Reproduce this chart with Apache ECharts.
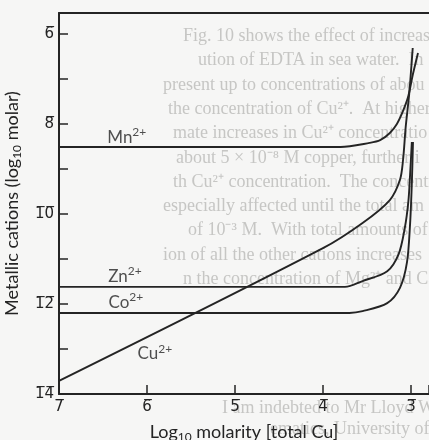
<!DOCTYPE html>
<html>
<head>
<meta charset="utf-8">
<script src="https://cdn.jsdelivr.net/npm/echarts@6/dist/echarts.min.js"></script>
<style>
  html, body { margin: 0; padding: 0; background: #f6f6f5; }
  #chart { width: 429px; height: 440px; }
</style>
</head>
<body>
<div id="chart"></div>
<script>
// x: log10 molarity of total copper, y: log10 molarity of the free cation
const mnPoints = [[-7, -8.51], [-3.8, -8.51], [-3.47, -8.42], [-3.35, -8.36], [-3.24, -8.2], [-3.16, -8.0], [-3.09, -7.71], [-3.03, -7.38], [-2.98, -6.91], [-2.92, -6.42]];
const znPoints = [[-7, -11.62], [-3.75, -11.62], [-3.55, -11.49], [-3.27, -11.27], [-3.14, -10.89], [-3.07, -10.31], [-3.03, -9.73], [-3.01, -9.13], [-2.99, -8.4]];
const coPoints = [[-7, -12.2], [-3.7, -12.2], [-3.55, -12.16], [-3.27, -11.98], [-3.125, -11.64], [-3.045, -11.07], [-3.01, -10.22], [-2.99, -9.31], [-2.977, -8.4]];
const cuPoints = [[-7, -13.71], [-4, -10.76], [-3.55, -10.2], [-3.24, -9.69], [-3.125, -9.24], [-3.09, -8.8], [-3.06, -8.07], [-3.02, -7.33], [-2.98, -6.31]];

// ion names and where they sit on the plot
const ionNames = ['Mn', 'Zn', 'Co', 'Cu'];
const ionLabelAt = [[-6.23, -8.29], [-6.25, -11.38], [-6.24, -11.96], [-5.91, -13.11]];

const xTicks = [-7, -6, -5, -4, -3];
const yLabelled = [-14, -12, -10, -8, -6];

// print-through from the facing page
const bleedLines = [
  ['Fig. 10 shows the effect of increas', 183, 37],
  ['ution of EDTA in sea water.  In', 198, 61],
  ['present up to concentrations of abou', 163, 86],
  ['the concentration of Cu²⁺.  At higher', 168, 110],
  ['mate increases in Cu²⁺ concentratio', 173, 134],
  ['about 5 × 10⁻⁸ M copper, further i', 176, 159],
  ['th Cu²⁺ concentration.  The concentr', 173, 183],
  ['especially affected until the total am', 163, 207],
  ['of 10⁻³ M.  With total amounts of', 188, 231],
  ['ion of all the other cations increases', 163, 256],
  ['n the concentration of Mg²⁺ and Ca²⁺', 183, 280],
  ['I am indebted to Mr Lloyd W. Ch', 222, 409],
  ['ematics, University of North W', 270, 430]
];

const ink = '#242424';
const isWhole = v => Math.abs(v - Math.round(v)) < 1e-6;
const overline = s => s.split('').map(c => c + '\u0305').join('');

const chart = echarts.init(document.getElementById('chart'));

const lineSeries = (name, data) => ({
  name: name,
  type: 'line',
  data: data,
  smooth: 0.3,
  showSymbol: false,
  lineStyle: { color: ink, width: 1.9 },
  z: 3
});

const nameRich = {
  a: { fontSize: 18, fontFamily: 'Lato', color: ink, lineHeight: 22 },
  s: { fontSize: 12, fontFamily: 'Lato', color: ink, lineHeight: 12, verticalAlign: 'bottom' }
};

chart.setOption({
  backgroundColor: '#f6f6f5',
  animation: false,
  textStyle: { fontFamily: 'Lato', color: ink },
  graphic: bleedLines.map(([t, x, y]) => ({
    type: 'text',
    left: x,
    top: y - 10,
    silent: true,
    z: 0,
    style: { text: t, fill: '#c6c6c4', font: '18px "Liberation Serif"' }
  })),
  grid: { left: 59, right: 0, top: 13, bottom: 46, containLabel: false, outerBoundsMode: 'none' },
  xAxis: [{
    type: 'value',
    min: -7,
    max: -2.795,
    interval: 1,
    name: '{a|Log}{s|10}{a| molarity [total Cu]}',
    nameLocation: 'middle',
    nameGap: 27,
    nameTextStyle: { rich: nameRich },
    axisLine: { onZero: false, lineStyle: { color: ink, width: 2 } },
    axisTick: { inside: true, length: 9, lineStyle: { color: ink, width: 1.5 } },
    axisLabel: {
      margin: 6,
      fontFamily: 'DejaVu Sans',
      fontSize: 15,
      color: ink,
      formatter: v => isWhole(v) && xTicks.includes(Math.round(v)) ? overline(String(Math.round(-v))) : ''
    },
    splitLine: { show: false }
  }, {
    type: 'value',
    position: 'top',
    min: -7,
    max: -2.795,
    axisLine: { onZero: false, lineStyle: { color: ink, width: 2 } },
    axisTick: { show: false },
    axisLabel: { show: false },
    splitLine: { show: false }
  }],
  yAxis: {
    type: 'value',
    min: -14,
    max: -5.533,
    interval: 1,
    name: '{a|Metallic cations (log}{s|10}{a| molar)}',
    nameLocation: 'middle',
    nameGap: 36,
    nameTextStyle: { rich: nameRich },
    axisLine: { onZero: false, lineStyle: { color: ink, width: 2 } },
    axisTick: { inside: true, length: 9, lineStyle: { color: ink, width: 1.5 } },
    axisLabel: {
      margin: 5,
      fontFamily: 'DejaVu Sans',
      fontSize: 15,
      color: ink,
      formatter: v => isWhole(v) && yLabelled.includes(Math.round(v)) ? overline(String(Math.round(-v))) : ''
    },
    splitLine: { show: false }
  },
  series: [
    lineSeries('Mn', mnPoints),
    lineSeries('Zn', znPoints),
    lineSeries('Co', coPoints),
    lineSeries('Cu', cuPoints),
    {
      name: 'labels',
      type: 'scatter',
      symbolSize: 0,
      silent: true,
      z: 4,
      data: ionLabelAt.map((p, i) => ({ value: p, ion: ionNames[i] })),
      label: {
        show: true,
        position: 'inside',
        formatter: p => '{a|' + p.data.ion + '}{s|2+}',
        rich: {
          a: { fontSize: 17, fontFamily: 'Lato', color: ink, lineHeight: 22 },
          s: { fontSize: 12, fontFamily: 'Lato', color: ink, lineHeight: 12, verticalAlign: 'top' }
        }
      }
    }
  ]
});
</script>
</body>
</html>
